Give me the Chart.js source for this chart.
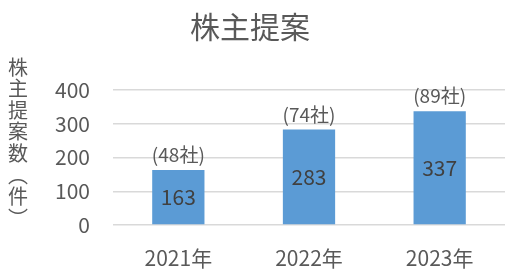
<!DOCTYPE html>
<html>
<head>
<meta charset="utf-8">
<script src="https://cdn.jsdelivr.net/npm/chart.js@4/dist/chart.umd.min.js"></script>
<style>
  html, body { margin: 0; padding: 0; background: #fff; }
  #wrap { width: 513px; height: 277px; }
</style>
</head>
<body>
<div id="wrap"><canvas id="chart" width="513" height="277"></canvas></div>
<script>
const FONT = "'Noto Sans CJK JP', 'Noto Sans', sans-serif";
const TEXT = '#595959';

const chartTitle = '株主提案';
const yAxisTitle = ['株', '主', '提', '案', '数', '︵', '件', '︶'];
const years = ['2021年', '2022年', '2023年'];
const proposals = [163, 283, 337];
const companies = ['(48社)', '(74社)', '(89社)'];
const yTicks = [0, 100, 200, 300, 400];

// タイトル・縦書きの軸ラベル・棒ラベルを描く
const labelsPlugin = {
    id: 'labels',
    afterDatasetsDraw(chart) {
        const ctx = chart.ctx;
        ctx.save();
        ctx.textAlign = 'center';
        ctx.textBaseline = 'middle';

        ctx.fillStyle = TEXT;
        ctx.font = '30px ' + FONT;
        ctx.fillText(chartTitle, 250, 27);

        ctx.font = '20px ' + FONT;
        yAxisTitle.forEach((ch, i) => {
            ctx.fillText(ch, 18, 67 + i * 21.6);
        });

        const meta = chart.getDatasetMeta(0);
        meta.data.forEach((bar, i) => {
            const mid = (bar.y + bar.base) / 2;
            ctx.fillStyle = '#404040';
            ctx.font = '21px ' + FONT;
            ctx.fillText(proposals[i], bar.x, mid);
            ctx.fillStyle = TEXT;
            ctx.font = '19px ' + FONT;
            ctx.fillText(companies[i], bar.x, bar.y - 15);
        });
        ctx.restore();
    }
};

new Chart(document.getElementById('chart'), {
    type: 'bar',
    data: {
        labels: years,
        datasets: [{
            data: proposals,
            backgroundColor: '#5B9BD5',
            barPercentage: 0.4,
            categoryPercentage: 1
        }]
    },
    options: {
        responsive: false,
        animation: false,
        layout: { padding: { left: 0, top: 90, right: 8, bottom: 0 } },
        plugins: {
            legend: { display: false },
            tooltip: { enabled: false }
        },
        scales: {
            x: {
                grid: { display: false, drawTicks: false },
                border: { display: false },
                ticks: { color: TEXT, font: { family: FONT, size: 21 }, padding: 20 },
                afterFit(scale) { scale.height = 52; }
            },
            y: {
                min: yTicks[0],
                max: yTicks[yTicks.length - 1],
                afterBuildTicks(scale) { scale.ticks = yTicks.map(v => ({ value: v })); },
                grid: { color: '#D9D9D9', lineWidth: 1.5, drawTicks: false },
                border: { display: false },
                ticks: { color: TEXT, font: { family: FONT, size: 21 }, padding: 23 },
                afterFit(scale) { scale.width = 113; }
            }
        }
    },
    plugins: [labelsPlugin]
});
</script>
</body>
</html>
